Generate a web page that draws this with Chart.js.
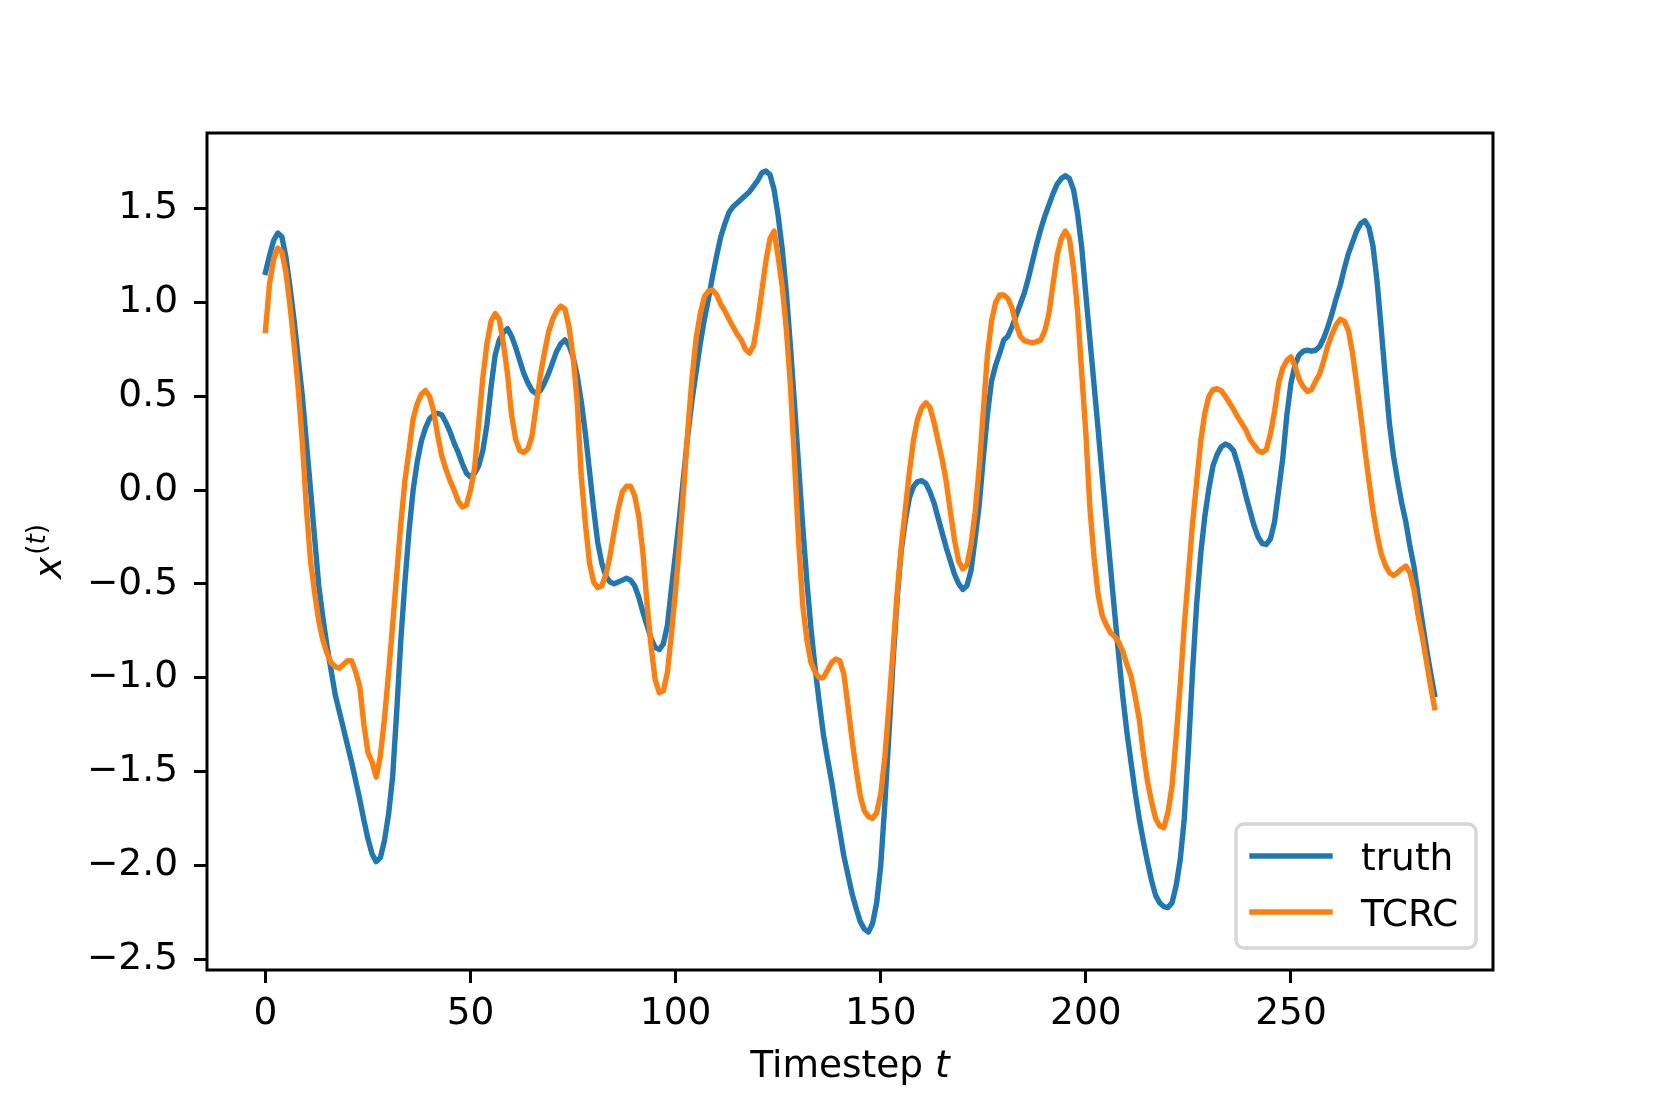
<!DOCTYPE html>
<html>
<head>
<meta charset="utf-8">
<script src="https://cdn.jsdelivr.net/npm/chart.js@4.4.0/dist/chart.umd.min.js"></script>
<style>
  html, body { margin: 0; padding: 0; background: #fff; }
  #wrap { width: 1661px; height: 1107px; }
</style>
</head>
<body>
<div id="wrap"><canvas id="chart" width="1661" height="1107"></canvas></div>
<script>
// values, one per timestep (t = 0 .. 285)
const truth = [
  1.16, 1.25, 1.33, 1.37, 1.35, 1.24, 1.08, 0.90, 0.70, 0.50,
  0.25, 0.00, -0.26, -0.51, -0.68, -0.83, -0.96, -1.09, -1.18, -1.27,
  -1.36, -1.45, -1.55, -1.65, -1.76, -1.86, -1.94, -1.98, -1.96, -1.87,
  -1.73, -1.53, -1.18, -0.80, -0.49, -0.22, 0.00, 0.15, 0.26, 0.33,
  0.38, 0.40, 0.41, 0.40, 0.36, 0.31, 0.25, 0.20, 0.14, 0.09,
  0.07, 0.09, 0.13, 0.21, 0.35, 0.55, 0.72, 0.80, 0.84, 0.86,
  0.82, 0.76, 0.69, 0.62, 0.57, 0.53, 0.515, 0.53, 0.57, 0.62,
  0.68, 0.74, 0.78, 0.80, 0.77, 0.71, 0.61, 0.47, 0.30, 0.10,
  -0.10, -0.28, -0.39, -0.46, -0.49, -0.50, -0.49, -0.48, -0.47, -0.48,
  -0.51, -0.57, -0.65, -0.72, -0.79, -0.84, -0.85, -0.82, -0.72, -0.52,
  -0.33, -0.13, 0.09, 0.30, 0.48, 0.63, 0.78, 0.91, 1.02, 1.14,
  1.25, 1.35, 1.42, 1.48, 1.51, 1.53, 1.55, 1.57, 1.59, 1.62,
  1.65, 1.69, 1.70, 1.68, 1.60, 1.46, 1.28, 1.05, 0.76, 0.45,
  0.12, -0.20, -0.49, -0.74, -0.95, -1.13, -1.30, -1.43, -1.55, -1.69,
  -1.82, -1.95, -2.05, -2.15, -2.23, -2.30, -2.34, -2.355, -2.31, -2.20,
  -2.00, -1.67, -1.30, -0.91, -0.58, -0.32, -0.16, -0.04, 0.02, 0.045,
  0.05, 0.035, -0.01, -0.07, -0.15, -0.23, -0.31, -0.38, -0.45, -0.50,
  -0.53, -0.51, -0.43, -0.26, -0.08, 0.17, 0.40, 0.58, 0.665, 0.73,
  0.80, 0.82, 0.87, 0.93, 0.99, 1.05, 1.13, 1.22, 1.31, 1.39,
  1.46, 1.52, 1.58, 1.63, 1.66, 1.675, 1.66, 1.60, 1.47, 1.29,
  1.04, 0.80, 0.56, 0.32, 0.07, -0.17, -0.41, -0.65, -0.88, -1.10,
  -1.29, -1.45, -1.61, -1.75, -1.87, -1.98, -2.08, -2.16, -2.20, -2.22,
  -2.225, -2.20, -2.11, -1.97, -1.75, -1.38, -0.97, -0.61, -0.34, -0.14,
  0.01, 0.13, 0.19, 0.23, 0.245, 0.235, 0.21, 0.14, 0.06, -0.03,
  -0.11, -0.19, -0.25, -0.285, -0.29, -0.26, -0.17, 0.00, 0.17, 0.40,
  0.57, 0.67, 0.72, 0.74, 0.745, 0.74, 0.745, 0.765, 0.81, 0.87,
  0.94, 1.02, 1.09, 1.18, 1.26, 1.32, 1.38, 1.42, 1.435, 1.40,
  1.30, 1.11, 0.86, 0.60, 0.355, 0.18, 0.05, -0.07, -0.17, -0.30,
  -0.41, -0.56, -0.70, -0.84, -0.97, -1.09
];

const tcrc = [
  0.85, 1.10, 1.23, 1.29, 1.27, 1.16, 0.98, 0.77, 0.54, 0.25,
  -0.10, -0.38, -0.55, -0.70, -0.80, -0.87, -0.92, -0.94, -0.95, -0.93,
  -0.91, -0.91, -0.97, -1.05, -1.25, -1.40, -1.45, -1.53, -1.42, -1.22,
  -0.98, -0.72, -0.45, -0.18, 0.05, 0.21, 0.38, 0.46, 0.51, 0.53,
  0.50, 0.42, 0.29, 0.18, 0.11, 0.05, 0.00, -0.06, -0.09, -0.08,
  0.00, 0.12, 0.36, 0.60, 0.78, 0.90, 0.94, 0.91, 0.78, 0.62,
  0.40, 0.27, 0.21, 0.20, 0.22, 0.29, 0.45, 0.61, 0.73, 0.84,
  0.91, 0.955, 0.98, 0.965, 0.87, 0.71, 0.47, 0.07, -0.18, -0.39,
  -0.49, -0.52, -0.51, -0.45, -0.35, -0.22, -0.10, -0.01, 0.02, 0.02,
  -0.03, -0.14, -0.33, -0.60, -0.83, -1.01, -1.08, -1.07, -0.97, -0.76,
  -0.53, -0.27, 0.02, 0.33, 0.60, 0.81, 0.94, 1.03, 1.06, 1.065,
  1.04, 0.99, 0.955, 0.91, 0.87, 0.83, 0.80, 0.75, 0.73, 0.77,
  0.90, 1.06, 1.22, 1.34, 1.38, 1.24, 1.08, 0.85, 0.55, 0.14,
  -0.28, -0.62, -0.80, -0.92, -0.97, -1.00, -1.00, -0.96, -0.92, -0.90,
  -0.91, -0.98, -1.15, -1.33, -1.49, -1.63, -1.71, -1.74, -1.75, -1.72,
  -1.62, -1.42, -1.15, -0.85, -0.55, -0.30, -0.10, 0.10, 0.27, 0.38,
  0.44, 0.465, 0.44, 0.36, 0.26, 0.16, 0.04, -0.12, -0.27, -0.38,
  -0.42, -0.40, -0.29, -0.12, 0.12, 0.42, 0.72, 0.90, 1.00, 1.04,
  1.04, 1.02, 0.97, 0.88, 0.82, 0.796, 0.79, 0.785, 0.79, 0.80,
  0.85, 0.94, 1.10, 1.25, 1.34, 1.38, 1.34, 1.18, 0.95, 0.62,
  0.30, -0.10, -0.36, -0.56, -0.67, -0.72, -0.76, -0.78, -0.81, -0.86,
  -0.93, -0.99, -1.10, -1.22, -1.40, -1.55, -1.66, -1.75, -1.79, -1.80,
  -1.72, -1.58, -1.32, -1.04, -0.72, -0.45, -0.18, 0.04, 0.26, 0.41,
  0.50, 0.535, 0.54, 0.53, 0.50, 0.465, 0.43, 0.39, 0.355, 0.32,
  0.27, 0.24, 0.21, 0.20, 0.215, 0.30, 0.42, 0.57, 0.65, 0.69,
  0.71, 0.66, 0.59, 0.55, 0.525, 0.535, 0.58, 0.62, 0.69, 0.77,
  0.83, 0.88, 0.91, 0.90, 0.85, 0.73, 0.57, 0.40, 0.22, 0.05,
  -0.11, -0.24, -0.34, -0.40, -0.44, -0.455, -0.44, -0.42, -0.405, -0.44,
  -0.53, -0.67, -0.78, -0.91, -1.04, -1.16
];

const seriesNames = ["truth", "TCRC"];
const seriesColors = ["#1f77b4", "#ff7f0e"];

const xTicks = [0, 50, 100, 150, 200, 250];
const yTicks = [-2.5, -2.0, -1.5, -1.0, -0.5, 0.0, 0.5, 1.0, 1.5];
const yTickLabels = ["\u22122.5", "\u22122.0", "\u22121.5", "\u22121.0", "\u22120.5", "0.0", "0.5", "1.0", "1.5"];

const FONT = "DejaVu Sans";
const FS = 37.5;
const LW = 5.4;

/* ---------- helpers ---------- */
function toPoints(arr) {
  return arr.map((v, t) => ({ x: t, y: v }));
}

// matplotlib-style 5% margins around the data
function paddedRange(lo, hi) {
  const m = (hi - lo) * 0.05;
  return [lo - m, hi + m];
}

const allY = truth.concat(tcrc);
const [yMin, yMax] = paddedRange(Math.min(...allY), Math.max(...allY));
const [xMin, xMax] = paddedRange(0, truth.length - 1);

/* ---------- plugins ---------- */
const framePlugin = {
  id: "frame",
  afterDatasetsDraw(chart) {
    const { ctx, chartArea: a } = chart;
    ctx.save();
    ctx.strokeStyle = "#000";
    ctx.lineWidth = 3;
    ctx.strokeRect(a.left, a.top, a.right - a.left, a.bottom - a.top);
    ctx.restore();
  }
};

const labelsPlugin = {
  id: "axisLabels",
  afterDraw(chart) {
    const { ctx, chartArea: a } = chart;
    ctx.save();
    ctx.fillStyle = "#000";
    ctx.textBaseline = "alphabetic";
    ctx.textAlign = "left";

    // x label: "Timestep t" with math-italic t
    const cx = (a.left + a.right) / 2;
    ctx.font = `${FS}px "${FONT}"`;
    const w1 = ctx.measureText("Timestep ").width;
    ctx.font = `italic ${FS}px "${FONT}"`;
    const w2 = ctx.measureText("t").width;
    const x0 = cx - (w1 + w2) / 2;
    ctx.font = `${FS}px "${FONT}"`;
    ctx.fillText("Timestep ", x0, 1077);
    ctx.font = `italic ${FS}px "${FONT}"`;
    ctx.fillText("t", x0 + w1, 1077);

    // y label: x^(t), rotated
    const sup = FS * 0.7;
    ctx.translate(61, (a.top + a.bottom) / 2);
    ctx.rotate(-Math.PI / 2);
    ctx.font = `italic ${FS}px "${FONT}"`;
    const wx = ctx.measureText("x").width;
    ctx.font = `${sup}px "${FONT}"`;
    const wp = ctx.measureText("(").width;
    const wq = ctx.measureText(")").width;
    ctx.font = `italic ${sup}px "${FONT}"`;
    const wt = ctx.measureText("t").width;
    const total = wx + 2 + wp + wt + wq;
    let u = -total / 2;
    ctx.font = `italic ${FS}px "${FONT}"`;
    ctx.fillText("x", u, 0);
    u += wx + 2;
    ctx.font = `${sup}px "${FONT}"`;
    ctx.fillText("(", u, -16);
    u += wp;
    ctx.font = `italic ${sup}px "${FONT}"`;
    ctx.fillText("t", u, -16);
    u += wt;
    ctx.font = `${sup}px "${FONT}"`;
    ctx.fillText(")", u, -16);
    ctx.restore();
  }
};

const legendPlugin = {
  id: "boxLegend",
  afterDraw(chart) {
    const { ctx, chartArea: a } = chart;
    const w = 240, h = 124;
    const right = a.right - 17, bottom = a.bottom - 22;
    const left = right - w, top = bottom - h;

    ctx.save();
    ctx.beginPath();
    ctx.roundRect(left, top, w, h, 8);
    ctx.fillStyle = "rgba(255,255,255,0.8)";
    ctx.fill();
    ctx.strokeStyle = "rgba(204,204,204,0.8)";
    ctx.lineWidth = 3.4;
    ctx.stroke();

    const rows = [top + 32, top + 88];
    chart.data.datasets.forEach((ds, i) => {
      const y = rows[i];
      ctx.beginPath();
      ctx.moveTo(left + 16, y);
      ctx.lineTo(left + 94, y);
      ctx.strokeStyle = ds.borderColor;
      ctx.lineWidth = LW;
      ctx.lineCap = "square";
      ctx.stroke();
      ctx.fillStyle = "#000";
      ctx.font = `${FS}px "${FONT}"`;
      ctx.textBaseline = "alphabetic";
      ctx.textAlign = "left";
      ctx.fillText(ds.label, left + 125, y + 13.5);
    });
    ctx.restore();
  }
};

/* ---------- chart ---------- */
const tickFont = { family: FONT, size: FS };

new Chart(document.getElementById("chart").getContext("2d"), {
  type: "line",
  data: {
    datasets: [
      { label: seriesNames[0], data: toPoints(truth), borderColor: seriesColors[0], order: 2 },
      { label: seriesNames[1], data: toPoints(tcrc), borderColor: seriesColors[1], order: 1 }
    ].map(ds => Object.assign(ds, {
      borderWidth: LW,
      pointRadius: 0,
      tension: 0,
      fill: false,
      borderJoinStyle: "round",
      borderCapStyle: "square"
    }))
  },
  options: {
    responsive: false,
    animation: false,
    events: [],
    devicePixelRatio: 1,
    layout: { padding: { top: 133, right: 168, left: 0, bottom: 0 } },
    plugins: { legend: { display: false }, tooltip: { enabled: false } },
    scales: {
      x: {
        type: "linear",
        min: xMin,
        max: xMax,
        afterBuildTicks: (s) => { s.ticks = xTicks.map(v => ({ value: v })); },
        afterFit: (s) => { s.height = 137; },
        ticks: { font: tickFont, color: "#000", padding: 9, maxRotation: 0, autoSkip: false },
        grid: { display: true, drawOnChartArea: false, drawTicks: true, tickLength: 13, tickWidth: 3, tickColor: "#000" },
        border: { display: false }
      },
      y: {
        type: "linear",
        min: yMin,
        max: yMax,
        afterBuildTicks: (s) => { s.ticks = yTicks.map(v => ({ value: v })); },
        afterFit: (s) => { s.width = 207; },
        ticks: {
          font: tickFont,
          color: "#000",
          padding: 16,
          autoSkip: false,
          callback: (v) => {
            const i = yTicks.indexOf(v);
            return i >= 0 ? yTickLabels[i] : "";
          }
        },
        grid: { display: true, drawOnChartArea: false, drawTicks: true, tickLength: 13, tickWidth: 3, tickColor: "#000" },
        border: { display: false }
      }
    }
  },
  plugins: [framePlugin, labelsPlugin, legendPlugin]
});
</script>
</body>
</html>
